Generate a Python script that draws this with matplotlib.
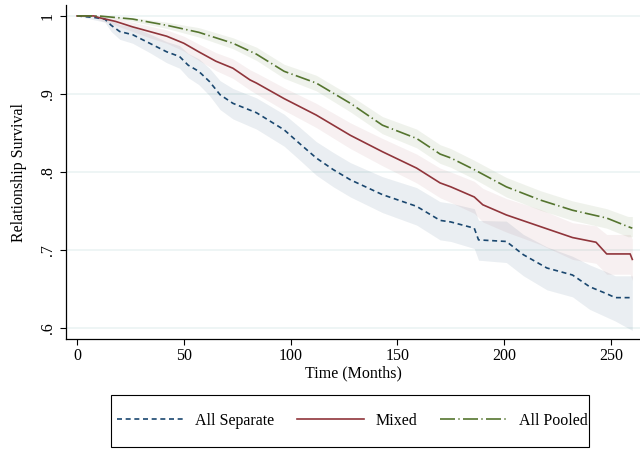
import matplotlib
matplotlib.use("Agg")
import matplotlib.pyplot as plt
from matplotlib.patches import Rectangle

plt.rcParams['font.family'] = ['Liberation Serif', 'DejaVu Serif']

# Kaplan-Meier estimates (months, survival, 95% band)
sep_t = [0, 8, 13, 16, 20, 26, 34, 42, 48, 52, 57, 62, 67, 73, 84, 97, 104, 112,
         120, 128, 143, 159, 170, 175, 186, 188, 201, 209, 220, 232, 240, 248, 252, 260]
sep_s = [1.0, 0.998, 0.996, 0.988, 0.980, 0.976, 0.965, 0.954, 0.948, 0.937, 0.929,
         0.916, 0.899, 0.888, 0.876, 0.854, 0.837, 0.818, 0.803, 0.790, 0.771, 0.756,
         0.738, 0.736, 0.728, 0.713, 0.711, 0.694, 0.677, 0.668, 0.653, 0.644, 0.639, 0.639]
sep_hi = [1.0, 1.0, 0.999, 0.995, 0.989, 0.986, 0.977, 0.967, 0.962, 0.952, 0.945,
          0.933, 0.917, 0.907, 0.895, 0.874, 0.858, 0.839, 0.825, 0.812, 0.794, 0.780,
          0.762, 0.760, 0.753, 0.738, 0.737, 0.720, 0.704, 0.692, 0.681, 0.672, 0.667, 0.667]
sep_lo = [1.0, 0.995, 0.992, 0.980, 0.970, 0.965, 0.953, 0.940, 0.933, 0.921, 0.912,
          0.898, 0.880, 0.868, 0.855, 0.833, 0.816, 0.796, 0.781, 0.768, 0.748, 0.732,
          0.713, 0.711, 0.702, 0.687, 0.684, 0.667, 0.649, 0.640, 0.624, 0.614, 0.609, 0.597]

mix_t = [0, 8, 10, 18, 26, 34, 42, 50, 57, 65, 73, 81, 84, 97, 112, 128, 143, 159,
         170, 175, 186, 190, 201, 217, 232, 243, 248, 259, 260]
mix_s = [1.0, 1.0, 0.998, 0.993, 0.986, 0.980, 0.974, 0.965, 0.954, 0.942, 0.933,
         0.918, 0.914, 0.894, 0.873, 0.847, 0.826, 0.805, 0.786, 0.781, 0.768, 0.758,
         0.745, 0.730, 0.716, 0.710, 0.695, 0.695, 0.688]
mix_hi = [1.0, 1.0, 1.0, 0.997, 0.992, 0.987, 0.982, 0.974, 0.964, 0.953, 0.945,
          0.931, 0.927, 0.908, 0.888, 0.863, 0.843, 0.823, 0.805, 0.800, 0.788, 0.779,
          0.766, 0.752, 0.735, 0.731, 0.720, 0.720, 0.714]
mix_lo = [1.0, 1.0, 0.995, 0.988, 0.980, 0.972, 0.965, 0.955, 0.943, 0.930, 0.920,
          0.905, 0.900, 0.879, 0.857, 0.830, 0.808, 0.786, 0.767, 0.761, 0.747, 0.736,
          0.723, 0.707, 0.688, 0.683, 0.669, 0.669, 0.661]

pool_t = [0, 10, 14, 26, 42, 57, 73, 84, 97, 112, 128, 143, 159, 170, 175, 186,
          201, 217, 232, 248, 258, 260]
pool_s = [1.0, 1.0, 0.999, 0.996, 0.988, 0.979, 0.965, 0.951, 0.929, 0.914, 0.888,
          0.860, 0.843, 0.823, 0.818, 0.803, 0.781, 0.764, 0.751, 0.741, 0.730, 0.728]
pool_hi = [1.0, 1.0, 1.0, 0.998, 0.992, 0.985, 0.972, 0.960, 0.938, 0.924, 0.898,
           0.871, 0.855, 0.835, 0.830, 0.815, 0.793, 0.776, 0.763, 0.753, 0.743, 0.743]
pool_lo = [1.0, 1.0, 0.998, 0.993, 0.984, 0.973, 0.958, 0.943, 0.920, 0.904, 0.877,
           0.849, 0.831, 0.811, 0.806, 0.791, 0.768, 0.751, 0.738, 0.728, 0.717, 0.717]

labels = ['All Separate', 'Mixed', 'All Pooled']
colors = ['#1a476f', '#90353b', '#55752f']
yticks = [0.6, 0.7, 0.8, 0.9, 1.0]
ytick_labels = ['.6', '.7', '.8', '.9', '1']

fig = plt.figure(figsize=(6.4, 4.49), dpi=100)
ax = fig.add_axes([66 / 640, 1 - 339 / 449, 574 / 640, 334 / 449])

for y in yticks:
    ax.axhline(y, color='#eaf2f3', lw=1.1, zorder=0)

ax.fill_between(sep_t, sep_lo, sep_hi, color=colors[0], alpha=0.09, lw=0)
ax.fill_between(mix_t, mix_lo, mix_hi, color=colors[1], alpha=0.07, lw=0)
ax.fill_between(pool_t, pool_lo, pool_hi, color=colors[2], alpha=0.09, lw=0)

l1, = ax.plot(sep_t, sep_s, color=colors[0], lw=1.2, dashes=(3, 2.2))
l2, = ax.plot(mix_t, mix_s, color=colors[1], lw=1.2)
l3, = ax.plot(pool_t, pool_s, color=colors[2], lw=1.2, dashes=(9, 2, 0.8, 2))

ax.set_xlim(-5.15, 263.6)
ax.set_ylim(0.586, 1.014)
ax.set_xticks([0, 50, 100, 150, 200, 250])
ax.set_yticks(yticks)
ax.set_yticklabels(ytick_labels, rotation=90, va='center')
ax.tick_params(axis='both', labelsize=11.5, length=4.5, width=0.8, direction='out')
ax.tick_params(axis='x', pad=2)
ax.tick_params(axis='y', pad=3)
for side in ['top', 'right']:
    ax.spines[side].set_visible(False)
for side in ['left', 'bottom']:
    ax.spines[side].set_linewidth(0.9)

ax.set_xlabel('Time (Months)', fontsize=11.5, labelpad=1)
ax.set_ylabel('Relationship Survival', fontsize=11.5, labelpad=9)

fig.legend([l1, l2, l3], labels, ncol=3, loc='center',
           bbox_to_anchor=(352 / 640, 1 - 421 / 449), frameon=False,
           fontsize=11.5, handlelength=4.2, handletextpad=0.7, columnspacing=1.45)
fig.patches.append(Rectangle((111 / 640, 1 - 447 / 449), 478 / 640, 52 / 449,
                             transform=fig.transFigure, fill=False,
                             edgecolor='black', lw=0.8))

fig.savefig('out.png', dpi=100)
